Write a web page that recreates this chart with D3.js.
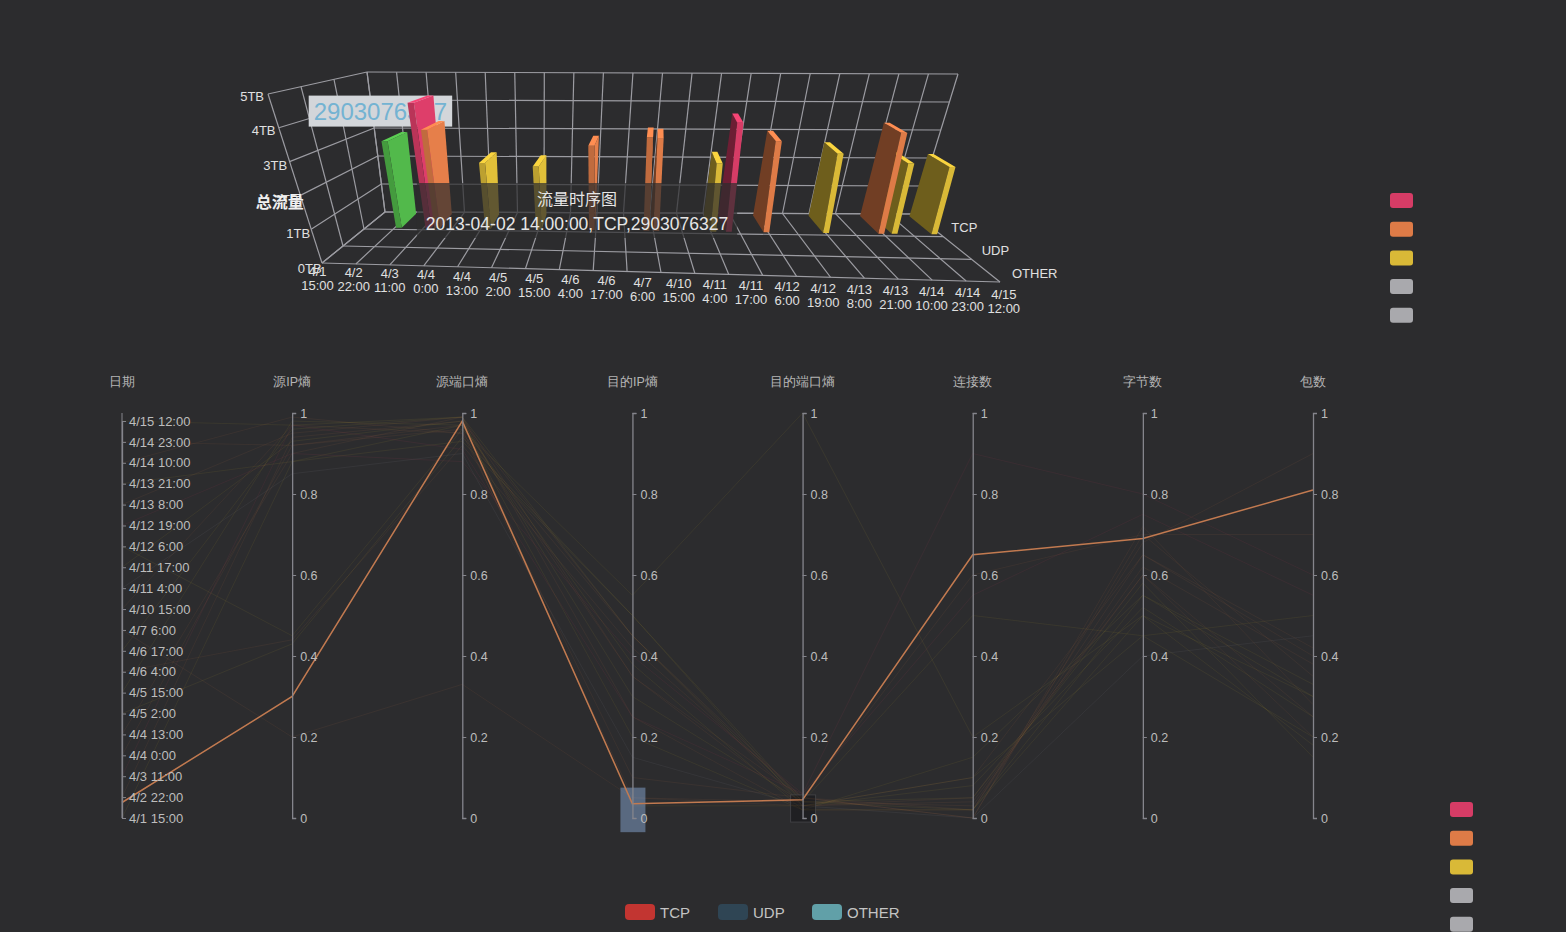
<!DOCTYPE html>
<html lang="zh">
<head>
<meta charset="UTF-8">
<title>流量时序图</title>
<style>
  body { margin: 0; background: #2c2c2e; overflow: hidden; }
  svg { display: block; font-family: "Liberation Sans", "Noto Sans CJK SC", sans-serif; }
</style>
</head>
<body>
<script src="https://d3js.org/d3.v7.min.js"></script>
<div id="chart"></div>
<script>
const width = 1566, height = 932;

// ---- data ----
// time ticks shared by the 3D x axis and the 日期 axis
const tickLabels = ['4/1 15:00', '4/2 22:00', '4/3 11:00', '4/4 0:00', '4/4 13:00', '4/5 2:00', '4/5 15:00',
  '4/6 4:00', '4/6 17:00', '4/7 6:00', '4/10 15:00', '4/11 4:00', '4/11 17:00', '4/12 6:00', '4/12 19:00',
  '4/13 8:00', '4/13 21:00', '4/14 10:00', '4/14 23:00', '4/15 12:00'];
const tickTimes = ['2013-04-01 15:00', '2013-04-02 22:00', '2013-04-03 11:00', '2013-04-04 00:00', '2013-04-04 13:00',
  '2013-04-05 02:00', '2013-04-05 15:00', '2013-04-06 04:00', '2013-04-06 17:00', '2013-04-07 06:00',
  '2013-04-10 15:00', '2013-04-11 04:00', '2013-04-11 17:00', '2013-04-12 06:00', '2013-04-12 19:00',
  '2013-04-13 08:00', '2013-04-13 21:00', '2013-04-14 10:00', '2013-04-14 23:00', '2013-04-15 12:00'];
const protocols = ['TCP', 'UDP', 'OTHER'];
const zTicks = [0, 1e9, 2e9, 3e9, 4e9, 5e9];

// 3D bars (总流量, bytes)
const barTimes = ['2013-04-02 14:00', '2013-04-03 08:00', '2013-04-03 12:00', '2013-04-04 11:00', '2013-04-05 10:00',
  '2013-04-06 10:00', '2013-04-08 11:00', '2013-04-09 15:00', '2013-04-11 13:00', '2013-04-11 20:00',
  '2013-04-12 13:00', '2013-04-13 16:00', '2013-04-14 17:00', '2013-04-14 23:00', '2013-04-15 17:00'];
const barProtos = ['TCP', 'TCP', 'TCP', 'TCP', 'TCP', 'TCP', 'TCP', 'TCP', 'TCP', 'TCP', 'TCP', 'TCP', 'TCP', 'TCP', 'TCP'];
const barValues = [2903076327, 4.2e9, 3.3e9, 2.2e9, 2.1e9, 2.8e9, 3.1e9, 3.05e9, 2.25e9, 3.6e9,
  3.0e9, 2.6e9, 3.3e9, 2.3e9, 2.2e9];
const hoverBar = 0;

// visual map pieces
const pieceBreaks = [0.5e9, 1.5e9, 2.75e9, 3.5e9];
const pieceColors = ['#a9a9ad', '#a9a9ad', '#d9b937', '#de7b47', '#d63c66'];

// parallel coordinates
const dims = ['日期', '源IP熵', '源端口熵', '目的IP熵', '目的端口熵', '连接数', '字节数', '包数'];
const parHighlight = ['2013-04-02 14:00', 0.30, 0.98, 0.035, 0.045, 0.65, 0.69, 0.81];
const parRecords = [
  ['2013-04-15 12:00', 0.97, 0.99, 0.45, 0.04, 0.02, 0.55, 0.30],
  ['2013-04-14 23:00', 0.92, 0.97, 0.35, 0.03, 0.05, 0.60, 0.25],
  ['2013-04-14 10:00', 0.99, 0.95, 0.10, 0.05, 0.00, 0.70, 0.35],
  ['2013-04-13 21:00', 0.88, 0.93, 0.50, 0.03, 0.10, 0.45, 0.20],
  ['2013-04-13 08:00', 0.95, 0.99, 0.25, 0.02, 0.02, 0.65, 0.40],
  ['2013-04-12 19:00', 0.90, 0.88, 0.40, 0.06, 0.55, 0.75, 0.55],
  ['2013-04-12 06:00', 0.45, 0.96, 0.55, 1.00, 0.20, 0.50, 0.30],
  ['2013-04-11 17:00', 0.93, 0.98, 0.30, 0.04, 0.05, 0.58, 0.15],
  ['2013-04-11 04:00', 0.85, 0.90, 0.15, 0.03, 0.00, 0.40, 0.45],
  ['2013-04-10 15:00', 0.97, 0.95, 0.45, 0.05, 0.60, 0.70, 0.70],
  ['2013-04-07 06:00', 0.20, 0.33, 0.05, 0.04, 0.03, 0.62, 0.38],
  ['2013-04-06 17:00', 0.96, 0.99, 0.03, 0.03, 0.08, 0.52, 0.25],
  ['2013-04-06 04:00', 0.44, 0.92, 0.42, 0.05, 0.02, 0.68, 0.90],
  ['2013-04-05 15:00', 0.98, 0.97, 0.20, 0.02, 0.15, 0.55, 0.33],
  ['2013-04-05 02:00', 0.43, 0.94, 0.50, 0.04, 0.50, 0.45, 0.50],
  ['2013-04-04 13:00', 0.90, 0.99, 0.35, 0.05, 0.00, 0.72, 0.28],
  ['2013-04-04 00:00', 0.92, 0.96, 0.05, 0.03, 0.04, 0.60, 0.20],
  ['2013-04-03 11:00', 0.97, 0.91, 0.25, 0.06, 0.90, 0.80, 0.60],
  ['2013-04-02 22:00', 0.94, 0.98, 0.45, 0.03, 0.10, 0.65, 0.42],
  ['2013-04-01 15:00', 0.88, 0.97, 0.38, 0.02, 0.02, 0.50, 0.18]
];
// brushed ranges [dimension, from, to]
const brushDims = ['目的IP熵', '目的端口熵'];
const brushRanges = [[-0.035, 0.075], [-0.01, 0.057]];

const legendNames = ['TCP', 'UDP', 'OTHER'];
const legendColors = ['#c23531', '#2f4554', '#61a0a8'];

const parseTime = d3.timeParse('%Y-%m-%d %H:%M');
const fmtTime = d3.timeFormat('%Y-%m-%d %H:%M:%S');

const svg = d3.select('#chart').append('svg')
  .attr('width', width).attr('height', height);

svg.append('rect').attr('width', width).attr('height', height).attr('fill', '#2c2c2e');

// ---- 3D bar chart ----
// corners of the box on screen, (u, v, w) in [0,1]; u = time, v = protocol (back->front), w = value
const corner = {
  '000': [385, 212], '100': [915, 214], '010': [322, 263], '110': [1000, 282],
  '001': [367, 72], '101': [958, 74], '011': [268, 94], '111': [1040, 98]
};
const lerp = (a, b, t) => [a[0] + (b[0] - a[0]) * t, a[1] + (b[1] - a[1]) * t];
function P(u, v, w) {
  const b0 = lerp(lerp(corner['000'], corner['100'], u), lerp(corner['010'], corner['110'], u), v);
  const b1 = lerp(lerp(corner['001'], corner['101'], u), lerp(corner['011'], corner['111'], u), v);
  return lerp(b0, b1, w);
}

const tickDates = tickTimes.map(parseTime);
const xScale = d3.scaleLinear()
  .domain(tickDates)
  .range(tickDates.map((d, i) => (i + 0.4) / tickDates.length));
const yScale = d3.scaleBand().domain(protocols).range([0, 1]);
const zScale = d3.scaleLinear().domain([0, 5e9]).range([0, 1]);
const pieceColor = d3.scaleThreshold().domain(pieceBreaks).range(pieceColors);

const line3 = d3.line();
const g3 = svg.append('g');

const grid = [];
const nCol = tickLabels.length;
d3.range(nCol + 1).forEach(i => {
  grid.push([[i / nCol, 0, 0], [i / nCol, 1, 0]]);
  grid.push([[i / nCol, 0, 0], [i / nCol, 0, 1]]);
});
const vLines = protocols.map(p => yScale(p)).concat([1]);
vLines.forEach(v => {
  grid.push([[0, v, 0], [1, v, 0]]);
  grid.push([[0, v, 0], [0, v, 1]]);
});
zTicks.forEach(t => {
  const w = zScale(t);
  grid.push([[0, 0, w], [1, 0, w]]);
  grid.push([[0, 0, w], [0, 1, w]]);
});
g3.append('g')
  .attr('fill', 'none')
  .attr('stroke', '#9c9ca2')
  .attr('stroke-width', 1.2)
  .selectAll('path')
  .data(grid)
  .join('path')
  .attr('d', d => line3(d.map(p => P(...p))));

// x labels
g3.append('g')
  .attr('fill', '#e0e0e0')
  .attr('font-size', 13)
  .attr('text-anchor', 'middle')
  .selectAll('text')
  .data(tickLabels)
  .join('text')
  .attr('transform', (d, i) => `translate(${P(xScale(tickDates[i]), 1.3, 0)})`)
  .call(t => t.append('tspan').attr('x', 0).attr('y', -3).text(d => d.split(' ')[0]))
  .call(t => t.append('tspan').attr('x', 0).attr('y', 11).text(d => d.split(' ')[1]));

// protocol labels
g3.append('g')
  .attr('fill', '#e0e0e0')
  .attr('font-size', 13)
  .selectAll('text')
  .data(protocols)
  .join('text')
  .attr('transform', d => `translate(${P(1.04, yScale(d) + yScale.bandwidth() / 2, 0)})`)
  .attr('dy', '0.5em')
  .text(d => d);

// value labels
g3.append('g')
  .attr('fill', '#e0e0e0')
  .attr('font-size', 13)
  .attr('text-anchor', 'middle')
  .selectAll('text')
  .data(zTicks)
  .join('text')
  .attr('transform', d => {
    const p = P(0, 1.1, zScale(d));
    return `translate(${p[0] - 6},${p[1]})`;
  })
  .attr('dy', '0.35em')
  .text(d => (d / 1e9) + 'TB');

const zName = P(0, 1.1, 0.38);
g3.append('text')
  .attr('x', zName[0] - 14).attr('y', zName[1])
  .attr('dy', '0.35em')
  .attr('text-anchor', 'middle')
  .attr('fill', '#f0f0f0')
  .attr('font-size', 16)
  .attr('font-weight', 'bold')
  .text('总流量');

// bar geometry
const bars = barValues.map((v, i) => {
  const u = xScale(parseTime(barTimes[i]));
  const v0 = yScale(barProtos[i]) + yScale.bandwidth() * 0.1;
  const v1 = yScale(barProtos[i]) + yScale.bandwidth() * 0.9;
  return { i, u, v0, v1, w: zScale(v), value: v, time: barTimes[i], proto: barProtos[i] };
});
const du = 0.005;

// emphasis label of the hovered bar (sits behind the other bars)
const hb = bars[hoverBar];
const hTop = P(hb.u, (hb.v0 + hb.v1) / 2, hb.w);
const labelX = hTop[0] - 14;
const labelG = g3.append('g');
const labelText = labelG.append('text')
  .attr('x', labelX).attr('y', hTop[1] - 17)
  .attr('text-anchor', 'middle')
  .attr('font-size', 24)
  .attr('fill', '#74b3d2')
  .text(hb.value);
const lbw = labelText.node().getComputedTextLength();
labelG.insert('rect', 'text')
  .attr('x', labelX - lbw / 2 - 5).attr('y', hTop[1] - 41)
  .attr('width', lbw + 10).attr('height', 31)
  .attr('fill', '#d3d6da');

const face = pts => 'M' + pts.map(p => P(...p).join(',')).join('L') + 'Z';
const barG = g3.append('g');
bars.slice().sort((a, b) => Math.abs(b.u - 0.5) - Math.abs(a.u - 0.5)).forEach(b => {
  const base = b.i === hoverBar ? '#4fb348' : pieceColor(b.value);
  const c = d3.color(base);
  const uL = b.u - du, uR = b.u + du;
  const g = barG.append('g');
  if (b.u < 0.5) {
    g.append('path').attr('fill', c.brighter(0.1))
      .attr('d', face([[uR, b.v0, 0], [uR, b.v1, 0], [uR, b.v1, b.w], [uR, b.v0, b.w]]));
  } else {
    g.append('path').attr('fill', c.darker(1.9))
      .attr('d', face([[uL, b.v0, 0], [uL, b.v1, 0], [uL, b.v1, b.w], [uL, b.v0, b.w]]));
  }
  g.append('path').attr('fill', b.u < 0.5 ? c.darker(0.4) : c)
    .attr('d', face([[uL, b.v1, 0], [uR, b.v1, 0], [uR, b.v1, b.w], [uL, b.v1, b.w]]));
  g.append('path').attr('fill', c.brighter(0.4))
    .attr('d', face([[uL, b.v0, b.w], [uR, b.v0, b.w], [uR, b.v1, b.w], [uL, b.v1, b.w]]));
});

// tooltip
const tipG = svg.append('g');
const tipLine = `${fmtTime(parseTime(hb.time))},${hb.proto},${hb.value}`;
const tipText = tipG.append('text')
  .attr('x', 577).attr('y', 230)
  .attr('text-anchor', 'middle')
  .attr('font-size', 17.5)
  .attr('fill', '#e6e6e6')
  .text(tipLine);
const tw = tipText.node().getComputedTextLength();
tipG.insert('rect', 'text')
  .attr('x', 577 - tw / 2 - 9).attr('y', 183)
  .attr('width', tw + 18).attr('height', 55)
  .attr('fill', 'rgba(44,44,46,0.7)');
tipG.append('text')
  .attr('x', 577).attr('y', 205)
  .attr('text-anchor', 'middle')
  .attr('font-size', 16)
  .attr('fill', '#e6e6e6')
  .text('流量时序图');

// visual map swatches (top and bottom)
[{ x: 1390, y: 193 }, { x: 1450, y: 802 }].forEach(pos => {
  svg.append('g')
    .selectAll('rect')
    .data(pieceColors.slice().reverse())
    .join('rect')
    .attr('x', pos.x)
    .attr('y', (d, i) => pos.y + i * 28.7)
    .attr('width', 23).attr('height', 15).attr('rx', 3)
    .attr('fill', d => d);
});

// ---- parallel coordinates ----
const parTop = 413, parBottom = 818;
const xPar = d3.scalePoint().domain(dims).range([122, 1313]);
const yVal = d3.scaleLinear().domain([0, 1]).range([parBottom, parTop]);
const yDatePoint = d3.scalePoint().domain(tickLabels).range([parBottom, 421]);
const yDate = d3.scaleLinear()
  .domain(tickDates)
  .range(tickLabels.map(l => yDatePoint(l)));
const yOf = (dim, v) => dim === dims[0] ? yDate(parseTime(v)) : yVal(v);

const parLine = d3.line();
const recPath = r => parLine(dims.map((d, k) => [xPar(d), yOf(d, r[k])]));
const lineColor = d3.scaleThreshold().domain([0.3, 0.45, 0.6, 0.75]).range(pieceColors);

const pg = svg.append('g');
pg.append('g')
  .attr('fill', 'none')
  .selectAll('path')
  .data(parRecords)
  .join('path')
  .attr('d', recPath)
  .attr('stroke', r => lineColor(r[6]))
  .attr('stroke-opacity', 0.08)
  .attr('stroke-width', 1);

// brush areas
brushDims.forEach((d, k) => {
  pg.append('rect')
    .attr('x', xPar(d) - 12)
    .attr('y', yVal(brushRanges[k][1]))
    .attr('width', 25)
    .attr('height', yVal(brushRanges[k][0]) - yVal(brushRanges[k][1]))
    .attr('fill', k === 0 ? 'rgba(128,156,196,0.55)' : 'rgba(10,10,12,0.35)')
    .attr('stroke', k === 0 ? 'none' : 'rgba(70,70,74,0.8)');
});

pg.append('path')
  .attr('d', recPath(parHighlight))
  .attr('fill', 'none')
  .attr('stroke', '#c27a50')
  .attr('stroke-width', 1.5);

dims.forEach((d, k) => {
  const ax = pg.append('g').attr('transform', `translate(${xPar(d)},0)`);
  if (k === 0) {
    ax.call(d3.axisRight(yDatePoint).tickSize(4).tickSizeOuter(0).tickPadding(3));
    ax.append('line').attr('y1', parTop).attr('y2', parBottom).attr('stroke', '#85858c');
  } else {
    ax.call(d3.axisRight(yVal).ticks(5).tickSize(4).tickPadding(4).tickFormat(d3.format('~g')));
  }
  ax.select('.domain').attr('stroke', '#85858c').attr('stroke-width', 1.3);
  ax.selectAll('.tick line').attr('stroke', '#85858c');
  ax.selectAll('.tick text').attr('fill', '#bdbdbd').attr('font-size', k === 0 ? 13 : 12.5);
  ax.append('text')
    .attr('y', 386)
    .attr('text-anchor', 'middle')
    .attr('fill', '#b5b5b5')
    .attr('font-size', 12.5)
    .text(d);
});

// legend
const lg = svg.append('g').attr('font-size', 15);
const legendX = [625, 718, 812];
legendNames.forEach((n, i) => {
  lg.append('rect').attr('x', legendX[i]).attr('y', 904).attr('width', 30).attr('height', 16).attr('rx', 4)
    .attr('fill', legendColors[i]);
  lg.append('text').attr('x', legendX[i] + 35).attr('y', 918).attr('fill', '#c4c4c4').text(n);
});
</script>
</body>
</html>
